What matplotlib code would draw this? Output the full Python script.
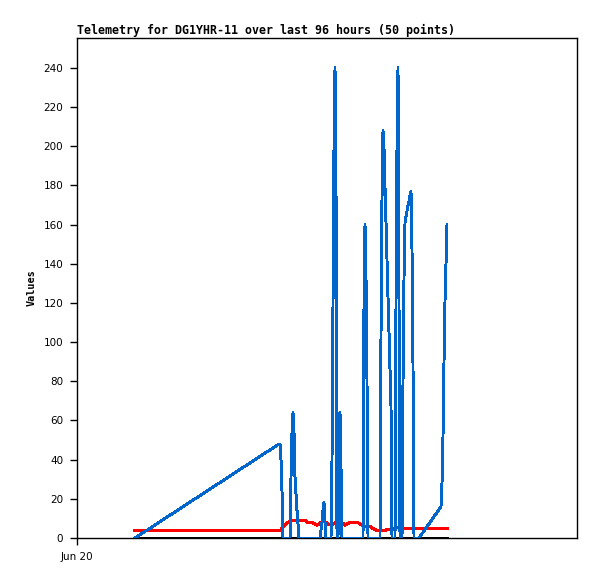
import matplotlib
matplotlib.use("Agg")
import matplotlib.pyplot as plt

# hours since Jun 20 00:00
blue_hours = [13.92, 48.48, 48.72, 48.96, 49.2, 49.44,
              51.12, 51.36, 51.6, 51.84, 52.08, 52.32, 52.8, 53.28,
              58.32, 58.56, 58.8, 59.04, 59.28, 59.52, 59.76,
              60.96, 61.2, 61.44, 61.68, 61.92, 62.16, 62.4, 62.64, 62.88, 63.12, 63.36, 63.6,
              68.64, 68.88, 69.12, 69.36, 69.6, 69.84,
              72.72, 72.96, 73.2, 73.44, 73.68, 73.92, 74.16, 74.4, 74.64, 74.88, 75.12, 75.36, 75.6,
              76.32, 76.56, 76.8, 77.04, 77.28, 77.52,
              78.0, 78.24, 78.48, 78.72, 78.96, 79.2, 79.44, 79.68, 79.92, 80.16, 80.4, 80.64, 80.88,
              82.08, 87.36, 87.6, 87.84, 88.08, 88.32, 88.56, 88.8]
blue_values = [0, 48, 48, 40, 24, 0,
               0, 31, 54, 64, 54, 31, 14, 0,
               0, 4, 8, 14, 18, 8, 0,
               0, 40, 120, 200, 240, 180, 0, 0, 59, 64, 36, 0,
               0, 120, 160, 133, 80, 0,
               0, 104, 174, 208, 199, 179, 161, 142, 123, 105, 86, 67, 0,
               0, 120, 200, 240, 120, 0,
               0, 80, 133, 161, 164, 167, 170, 172, 175, 177, 147, 88, 0,
               0, 16, 28, 52, 90, 121, 140, 160]

red_hours = [13.92, 48.72, 49.44, 50.64, 51.6, 54.72, 55.44, 56.64, 57.6, 58.8, 59.52,
             60.24, 61.44, 61.92, 63.6, 64.32, 65.52, 67.44, 69.12, 70.32, 72.0, 73.92,
             74.64, 75.84, 76.8, 77.52, 88.8]
red_values = [3.7, 3.7, 5.5, 8.0, 8.9, 8.9, 7.8, 7.8, 6.6, 8.3, 8.3,
              7.0, 7.0, 7.8, 7.8, 6.6, 7.8, 7.8, 5.8, 5.8, 3.7, 3.7,
              4.5, 4.5, 5.5, 4.8, 4.8]

black_hours = [13.92, 88.8]
black_values = [0, 0]

y_ticks = list(range(0, 241, 20))
x_tick_labels = ["Jun 20"]

fig = plt.figure(figsize=(5.97, 5.79), dpi=100)
ax = fig.add_axes([77 / 597, 41 / 579, 500 / 597, 500 / 579])

ax.plot(black_hours, black_values, color="black", linewidth=2.0, antialiased=False, zorder=2)
ax.plot(red_hours, red_values, color="#ff0000", linewidth=1.6, antialiased=False, zorder=3)
ax.plot(blue_hours, blue_values, color="#0066cc", linewidth=1.4, antialiased=False, zorder=4)

ax.set_xlim(0, 120)
ax.set_ylim(0, 255.3)
ax.set_yticks(y_ticks)
ax.set_yticklabels([str(v) for v in y_ticks], fontsize=7.5, family="DejaVu Sans")
ax.set_xticks([0])
ax.set_xticklabels(x_tick_labels, fontsize=7.5, family="DejaVu Sans")
ax.tick_params(axis="both", direction="out", length=5, width=1, pad=5, colors="black")

for side in ["top", "right", "left", "bottom"]:
    ax.spines[side].set_linewidth(1)
    ax.spines[side].set_color("black")

ax.set_title("Telemetry for DG1YHR-11 over last 96 hours (50 points)", loc="left",
             family="DejaVu Sans Mono", fontweight="bold", fontsize=8.35, pad=3)
ax.set_ylabel("Values", family="DejaVu Sans Mono", fontweight="bold", fontsize=7.3)
ax.yaxis.set_label_coords(-0.08, 0.5)

fig.savefig("out.png", dpi=100)
